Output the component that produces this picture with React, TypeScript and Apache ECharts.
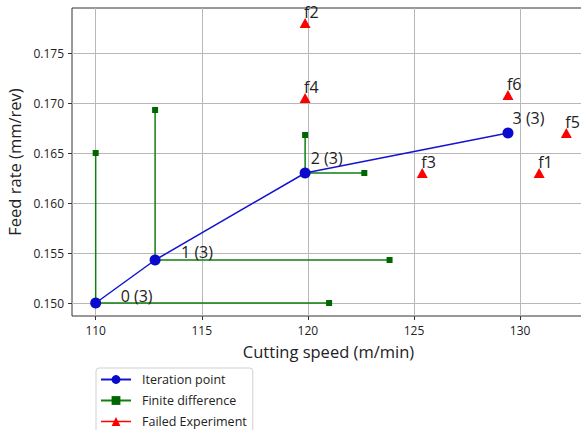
import React, { useEffect, useRef } from "react";
import * as echarts from "echarts";

// Iteration points
const iterX = [110, 112.8, 119.87, 129.43];
const iterY = [0.15, 0.1543, 0.163, 0.167];
const iterLabels = ["0 (3)", "1 (3)", "2 (3)", "3 (3)"];

// Finite difference end points (from iteration points 0..2)
const fdVertY = [0.165, 0.1693, 0.1668];
const fdHorizX = [121.0, 123.85, 122.66];

// Failed experiments
const failedNames = ["f1", "f2", "f3", "f4", "f5", "f6"];
const failedX = [130.9, 119.87, 125.39, 119.87, 132.18, 129.43];
const failedY = [0.163, 0.178, 0.163, 0.1705, 0.167, 0.1708];

// Axis ticks
const xTicks = [110, 115, 120, 125, 130];
const yTicks = [0.15, 0.155, 0.16, 0.165, 0.17, 0.175];

const FONT = "Open Sans";

const iterOffsets: [number, number][] = [
  [25, -7.5],
  [26, -7.7],
  [5.7, -15.2],
  [4.6, -15.4],
];

export default function App() {
  const ref = useRef<HTMLDivElement>(null);
  useEffect(() => {
    if (!ref.current) return;
    const chart = echarts.init(ref.current, undefined, { renderer: "svg" });

    const fdData: any[] = [];
    for (let i = 0; i < fdVertY.length; i++) {
      if (i > 0) fdData.push(["-", "-"]);
      fdData.push({ value: [iterX[i], fdVertY[i]] });
      fdData.push({ value: [iterX[i], iterY[i]], symbol: "none" });
      fdData.push({ value: [fdHorizX[i], iterY[i]] });
    }

    const iterData = iterX.map((x, i) => ({
      value: [x, iterY[i]],
      label: {
        show: true,
        formatter: iterLabels[i],
        position: "inside",
        align: "left",
        verticalAlign: "middle",
        offset: iterOffsets[i],
        fontFamily: FONT,
        fontSize: 16,
        color: "#222",
      },
    }));

    const failedData = failedX.map((x, i) => ({
      value: [x, failedY[i]],
      label: {
        show: true,
        formatter: failedNames[i],
        position: "inside",
        align: "left",
        verticalAlign: "middle",
        offset: [-1, -11],
        fontFamily: FONT,
        fontSize: 16,
        color: "#222",
      },
    }));

    chart.setOption({
      animation: false,
      textStyle: { fontFamily: FONT },
      grid: {
        left: 72,
        top: 8,
        width: 513,
        height: 308,
        containLabel: false,
        outerBoundsMode: "none",
        show: true,
        borderColor: "#333",
        borderWidth: 1,
        backgroundColor: "transparent",
      },
      xAxis: {
        type: "value",
        min: 108.884,
        max: 133.06,
        name: "Cutting speed (m/min)",
        nameLocation: "middle",
        nameGap: 27,
        nameTextStyle: { fontFamily: FONT, fontSize: 16.5, color: "#222" },
        axisLine: { show: false },
        axisTick: {
          show: true,
          length: 4,
          lineStyle: { color: "#333" },
          customValues: xTicks,
        },
        axisLabel: {
          fontFamily: FONT,
          fontSize: 12,
          color: "#222",
          margin: 8,
          customValues: xTicks,
          formatter: (v: number) => String(v),
        },
        splitLine: { show: true, lineStyle: { color: "#b8b8b8", width: 1 } },
      },
      yAxis: {
        type: "value",
        min: 0.1487,
        max: 0.1795,
        name: "Feed rate (mm/rev)",
        nameLocation: "middle",
        nameGap: 39,
        nameRotate: 90,
        nameTextStyle: { fontFamily: FONT, fontSize: 16.5, color: "#222" },
        axisLine: { show: false },
        axisTick: {
          show: true,
          length: 4,
          lineStyle: { color: "#333" },
          customValues: yTicks,
        },
        axisLabel: {
          fontFamily: FONT,
          fontSize: 12,
          color: "#222",
          margin: 8,
          customValues: yTicks,
          formatter: (v: number) => v.toFixed(3),
        },
        splitLine: { show: true, lineStyle: { color: "#b8b8b8", width: 1 } },
      },
      legend: {
        orient: "vertical",
        left: 96,
        top: 368,
        height: 80,
        padding: [5, 6, 6, 4],
        itemGap: 8,
        itemWidth: 30,
        itemHeight: 11,
        borderColor: "#d0d0d0",
        borderWidth: 1,
        borderRadius: 3,
        textStyle: { fontFamily: FONT, fontSize: 12.5, color: "#222", padding: [0, 0, 0, 6] },
        data: [
          { name: "Iteration point" },
          { name: "Finite difference" },
          { name: "Failed Experiment", lineStyle: { opacity: 1, width: 1.5, color: "#ff0000" } },
        ],
      },
      series: [
        {
          name: "Finite difference",
          type: "line",
          data: fdData,
          symbol: "rect",
          symbolSize: 6,
          connectNulls: false,
          lineStyle: { color: "#108010", width: 1.5 },
          itemStyle: { color: "#006600" },
          z: 2,
        },
        {
          name: "Iteration point",
          type: "line",
          data: iterData,
          symbol: "circle",
          symbolSize: 11,
          lineStyle: { color: "#1414d0", width: 1.5 },
          itemStyle: { color: "#0a0acc" },
          z: 3,
        },
        {
          name: "Failed Experiment",
          type: "line",
          data: failedData,
          symbol: "triangle",
          symbolSize: [11, 10],
          lineStyle: { color: "#ff0000", width: 1.5, opacity: 0 },
          itemStyle: { color: "#ff0000" },
          z: 4,
        },
      ],
    });
    return () => chart.dispose();
  }, []);
  return (
    <div
      ref={ref}
      style={{ position: "fixed", left: 0, top: 0, width: 581, height: 430, background: "#fff" }}
    />
  );
}
